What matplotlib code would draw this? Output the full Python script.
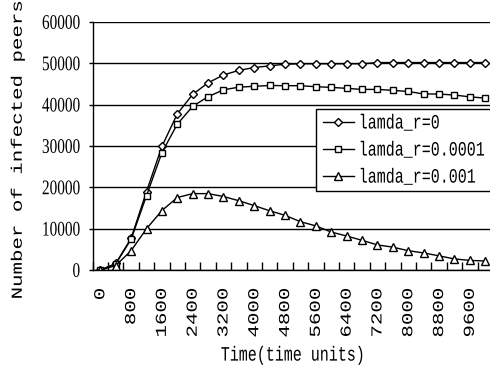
import numpy as np
import matplotlib
matplotlib.use("Agg")
import matplotlib.pyplot as plt
from matplotlib.ticker import FixedLocator, NullFormatter
from matplotlib.patheffects import AbstractPathEffect
from matplotlib.transforms import Affine2D

# time points (category axis, every 400 units)
times = list(range(0, 10001, 400))
tick_labels = [str(t) if i % 2 == 0 else "" for i, t in enumerate(times)]

# infected peers
lamda_0 = [0, 1600, 7700, 19000, 29900, 37800, 42500, 45300, 47200, 48300,
           49000, 49400, 49800, 49900, 49900, 49900, 49900, 49900, 50200, 50200,
           50200, 50200, 50200, 50200, 50200, 50200]
lamda_00001 = [0, 1500, 7450, 18000, 28400, 35300, 39600, 41950, 43600, 44250,
               44450, 44650, 44600, 44600, 44350, 44200, 43950, 43700, 43700, 43470,
               43200, 42600, 42580, 42340, 41900, 41600]
lamda_0001 = [0, 1100, 4700, 10000, 14400, 17550, 18500, 18500, 17800, 16780,
              15600, 14350, 13250, 11700, 10700, 9200, 8250, 7200, 6100, 5550,
              4700, 4150, 3450, 2700, 2350, 2200]

series = [
    (lamda_0, "D", 4.5, "lamda_r=0"),
    (lamda_00001, "s", 5, "lamda_r=0.0001"),
    (lamda_0001, "^", 6, "lamda_r=0.001"),
]


class StretchY(AbstractPathEffect):
    # the original picture is squeezed horizontally, so text looks tall
    def __init__(self, sy=1.36, anchor="center"):
        super().__init__()
        self.sy = sy
        self.anchor = anchor

    def draw_path(self, renderer, gc, tpath, affine, rgbFace=None):
        m = affine.get_matrix()
        if len(tpath.vertices) == 0:
            return
        ys = affine.transform(tpath.vertices)[:, 1]
        p = ys.max() if self.anchor == "top" else 0.5 * (ys.min() + ys.max())
        s = Affine2D().translate(0, -p).scale(1, self.sy).translate(0, p)
        renderer.draw_path(gc, tpath, Affine2D(s.get_matrix() @ m), rgbFace)


fig = plt.figure(figsize=(4.9, 3.67), dpi=100)
ax = fig.add_axes([0.189, 0.264, 0.817, 0.676])

x = np.arange(len(times))
for vals, mk, ms, name in series:
    ax.plot(x, vals, color="black", lw=1.0, marker=mk, ms=ms,
            mfc="white", mec="black", mew=1.0, label=name)

ax.set_xlim(-0.5, len(times) - 0.5)
ax.set_ylim(0, 60000)
ax.set_yticks(range(0, 60001, 10000))
ax.yaxis.grid(True, color="black", lw=1.0)
ax.set_axisbelow(True)

# labels centred on categories, tick marks between them
ax.set_xticks(x)
ax.set_xticklabels(tick_labels, rotation=90, va="top",
                   family="Liberation Mono", size=11)
ax.xaxis.set_minor_locator(FixedLocator(np.arange(-0.5, len(times), 1.0)))
ax.xaxis.set_minor_formatter(NullFormatter())
ax.tick_params(axis="x", which="major", length=0, pad=13)
ax.tick_params(axis="x", which="minor", direction="in", length=6, width=1)
ax.tick_params(axis="y", direction="out", length=3, width=1, pad=6)
for lab in ax.get_xticklabels():
    lab.set_path_effects([StretchY(anchor="top")])
for lab in ax.get_yticklabels():
    lab.set_fontfamily("Liberation Serif")
    lab.set_fontsize(11)
    lab.set_path_effects([StretchY()])

for side in ["top", "right"]:
    ax.spines[side].set_visible(False)
for side in ["left", "bottom"]:
    ax.spines[side].set_linewidth(1.0)
    ax.spines[side].set_color("black")

ax.set_xlabel("Time(time units)", family="Liberation Mono", size=10.8,
              va="center", path_effects=[StretchY()])
ax.xaxis.set_label_coords(0.5, -0.343)
ax.set_ylabel("Number of infected peers", family="Liberation Mono", size=11,
              va="center", path_effects=[StretchY()])
ax.yaxis.set_label_coords(-0.187, 0.482)

leg = ax.legend(loc="upper left", bbox_to_anchor=(0.558, 0.649),
                prop={"family": "Liberation Mono", "size": 10.8},
                frameon=True, fancybox=False, framealpha=1, edgecolor="black",
                handlelength=2.1, handletextpad=0.3, labelspacing=0.87,
                borderpad=0.45, borderaxespad=0)
leg.get_frame().set_linewidth(1.0)
for t in leg.get_texts():
    t.set_path_effects([StretchY()])

fig.savefig("out.png", dpi=100)
